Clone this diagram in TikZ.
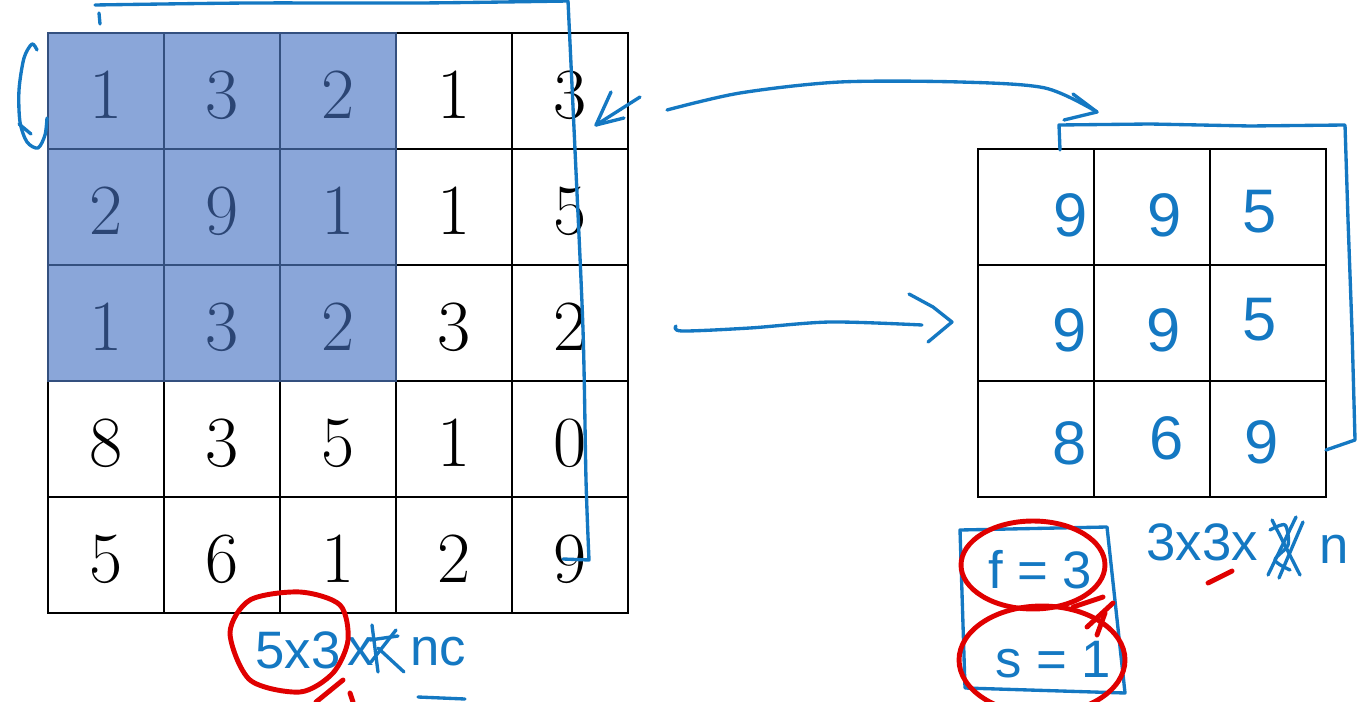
\documentclass[tikz,border=0pt]{standalone}
\usepackage{fontspec}
\newfontfamily\hand{Liberation Sans}
\definecolor{shade}{HTML}{8AA6D9}
\definecolor{shadeline}{HTML}{34507F}
\definecolor{shadetext}{HTML}{2B4574}
\definecolor{pen}{HTML}{1478C2}
\definecolor{redpen}{HTML}{E00000}
\begin{document}
\begin{tikzpicture}[x=0.02cm,y=-0.02cm,
  whitecell/.style={draw=black,line width=1.1pt,minimum size=2.32cm,inner sep=0pt,fill=white},
  shadecell/.style={draw=shadeline,line width=1.1pt,minimum size=2.32cm,inner sep=0pt,fill=shade},
  outcell/.style={draw=black,line width=1.1pt,minimum size=2.32cm,inner sep=0pt},
  dig/.style={font=\fontsize{41}{41}\selectfont,inner sep=0pt},
  hw/.style={font=\hand\fontsize{35}{35}\selectfont,text=pen,inner sep=0pt},
  hws/.style={font=\hand\fontsize{30}{30}\selectfont,text=pen,inner sep=0pt},
  penline/.style={draw=pen,line width=1.9pt,line cap=round,line join=round},
  redline/.style={draw=redpen,line width=2.8pt,line cap=round,line join=round}]
\useasboundingbox (0,0) rectangle (1358,702);
\fill[white] (0,0) rectangle (1358,702);
\clip (0,0) rectangle (1358,702);

% input grid
\foreach \r in {1,...,5}{
  \foreach \c in {1,...,5}{
    \node[whitecell] (in-\r-\c) at ({48+116*\c-58},{33+116*\r-58}) {};
  }
}
\foreach \r in {1,2,3}{
  \foreach \c in {1,2,3}{
    \node[shadecell] (sh-\r-\c) at ({48+116*\c-58},{33+116*\r-58}) {};
  }
}
\foreach \r/\vals in {1/{1,3,2,1,3},2/{2,9,1,1,5},3/{1,3,2,3,2},4/{8,3,5,1,0},5/{5,6,1,2,9}}{
  \foreach \v [count=\c] in \vals {
    \ifnum\r<4 \ifnum\c<4 \def\col{shadetext}\else\def\col{black}\fi\else\def\col{black}\fi
    \node[dig,text=\col] (d-\r-\c) at ({48+116*\c-58},{33+116*\r-54}) {\v};
  }
}

% output grid
\foreach \r in {1,2,3}{
  \foreach \c in {1,2,3}{
    \node[outcell] (out-\r-\c) at ({978+116*\c-58},{149+116*\r-58}) {};
  }
}
\node[hw] (o11) at (1071,215) {9};
\node[hw] (o12) at (1165,215) {9};
\node[hw] (o13) at (1260,212) {5};
\node[hw] (o21) at (1070,330) {9};
\node[hw] (o22) at (1164,330) {9};
\node[hw] (o23) at (1260,320) {5};
\node[hw] (o31) at (1070,443) {8};
\node[hw] (o32) at (1167,438) {6};
\node[hw] (o33) at (1262,442) {9};

% blue pen strokes
\draw[penline] plot[smooth] coordinates {(95,5) (250,3) (420,3) (568,1)};
\draw[penline] plot[smooth] coordinates {(568,1) (575,150) (583,330) (586,480) (589,560)} -- (563,559);
\draw[penline] (99,13) -- (100,24);
\draw[penline] plot[smooth] coordinates {(37,50) (32,44) (24,58) (19,90) (20,122) (27,142) (38,148) (45,135) (47,118)};
\draw[penline] (19,124) -- (31,134);
% small arrow
\coordinate (sa1) at (640,97);
\coordinate (sa2) at (596,125);
\draw[penline] (sa1) -- (sa2);
\draw[penline] (611,92) -- (sa2) -- (624,118);
% curved arrow to output top
\coordinate (ca2) at (1097,112);
\draw[penline] plot[smooth] coordinates {(667,110) (740,93) (840,82) (960,82) (1045,88) (1097,112)};
\draw[penline] (1073,94) -- (ca2) -- (1064,120);
% bracket around output
\draw[penline] (1060,150) -- (1059,125) -- (1150,124) -- (1250,126) -- (1345,125) -- (1348,220) -- (1352,330) -- (1355,440) -- (1326,450);
% middle arrow
\coordinate (ma2) at (952,322);
\draw[penline] plot[smooth] coordinates {(676,326) (682,331) (750,328) (830,322) (922,325)};
\draw[penline] (909,294) -- (933,307) -- (ma2) -- (928,342);

% f, s box
\draw[penline] (960,530) -- (1107,527) -- (1125,693) -- (965,688) -- cycle;
\node[hws] (ftext) at (1040,570) {f = 3};
\node[hws] (stext) at (1053,660) {s = 1};
\draw[redline] (1033,565) ellipse [x radius=1.44cm, y radius=0.88cm];
\draw[redline] (1042,660) ellipse [x radius=1.66cm, y radius=1.08cm];
\draw[redline] (1073,607) -- (1103,597);
\draw[redline] (1087,627) -- (1113,603);
\draw[redline] (1097,635) -- (1105,613);

% 3x3xn
\node[hws] (fdim) at (1202,542) {3x3x};
\draw[penline] (1272,520) -- (1300,575);
\draw[penline] (1296,517) -- (1268,575);
\draw[penline] (1303,522) -- (1279,578);
\draw[penline] plot[smooth] coordinates {(1270,530) (1285,525) (1288,545) (1275,560) (1290,570)};
\node[hws] (fn) at (1334,549) {n};
\draw[redline] (1208,583) -- (1232,571);

% 5x3 x nc
\node[hws] (idim) at (298,650) {5x3};
\node[hws] (ix) at (361,652) {x};
\draw[penline] (372,625) -- (378,672);
\draw[penline] (396,630) -- (371,662);
\draw[penline] (378,648) -- (404,672);
\draw[penline] (370,640) -- (398,636);
\node[hws] (inc) at (438,652) {nc};
\draw[penline] (418,697) -- (465,699);
\draw[redline] plot[smooth cycle] coordinates {(300,592) (340,605) (348,640) (333,673) (300,692) (250,680) (230,633) (250,600)};
\draw[redline] (343,680) -- (316,702);
\draw[redline] (350,693) -- (353,702);
\end{tikzpicture}
\end{document}
